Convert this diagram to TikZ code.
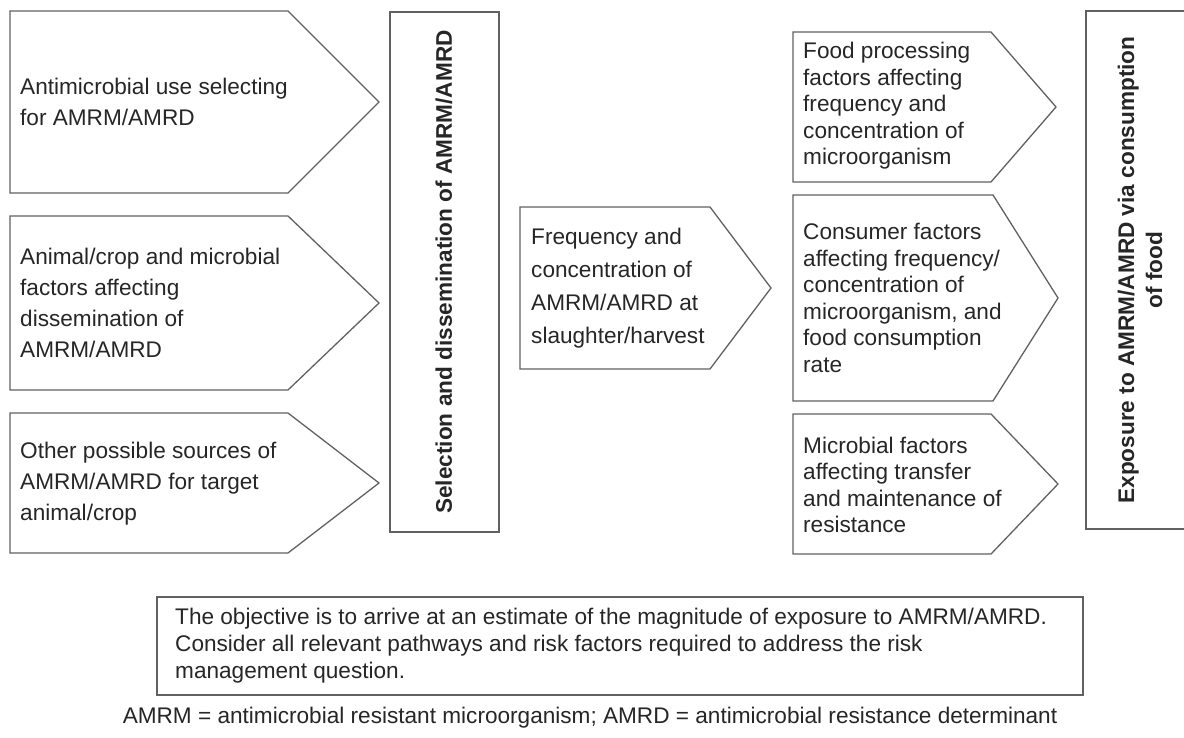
\documentclass[tikz,border=0pt]{standalone}
\usepackage{fontspec}
\setmainfont{Liberation Sans}
\tikzset{
  outline/.style={draw=black!62, line width=1.3pt, line join=miter},
  boxtext/.style={font=\fontsize{22.6}{31}\selectfont, text=black!85, align=left, anchor=west, inner sep=0pt},
  midtext/.style={boxtext, font=\fontsize{22.6}{33}\selectfont},
  righttext/.style={boxtext, font=\fontsize{22.6}{26.5}\selectfont},
  bartext/.style={font=\bfseries\fontsize{22.6}{28}\selectfont, text=black!85, align=center, rotate=90, inner sep=0pt}
}
\begin{document}
\begin{tikzpicture}[x=1pt, y=-1pt]
      \useasboundingbox (0,0) rectangle (1184,738);
      \clip (0,0) rectangle (1184,738);
      \draw[outline] (10,11) -- (288,11) -- (379,102) -- (288,193) -- (10,193) -- cycle;
      \draw[outline] (10,216) -- (288,216) -- (379,303) -- (288,390) -- (10,390) -- cycle;
      \draw[outline] (10,413) -- (288,413) -- (379,483) -- (288,553) -- (10,553) -- cycle;
      \draw[outline] (390,12) rectangle (499,532);
      \draw[outline] (520,207) -- (710,207) -- (771,288) -- (710,369) -- (520,369) -- cycle;
      \draw[outline] (793,32) -- (991,32) -- (1056,107) -- (991,182) -- (793,182) -- cycle;
      \draw[outline] (793,195) -- (993,195) -- (1058,298) -- (993,401) -- (793,401) -- cycle;
      \draw[outline] (793,414) -- (991,414) -- (1058,484) -- (991,554) -- (793,554) -- cycle;
      \draw[outline] (1086,11) rectangle (1200,529);
      \draw[outline] (157,597) rectangle (1083,695);
      \node[boxtext] (use) at (20,102) {Antimicrobial use selecting\\for AMRM/AMRD};
      \node[boxtext] (host) at (20,303) {Animal/crop and microbial\\factors affecting\\dissemination of\\AMRM/AMRD};
      \node[boxtext] (other) at (20,484) {Other possible sources of\\AMRM/AMRD for target\\animal/crop};
      \node[bartext] (select) at (444,272) {Selection and dissemination of AMRM/AMRD};
      \node[midtext] (slaughter) at (531,288) {Frequency and\\concentration of\\AMRM/AMRD at\\slaughter/harvest};
      \node[righttext] (process) at (803,106) {Food processing\\factors affecting\\frequency and\\concentration of\\microorganism};
      \node[righttext] (consumer) at (803,298) {Consumer factors\\affecting frequency/\\concentration of\\microorganism, and\\food consumption\\rate};
      \node[righttext] (transfer) at (803,485) {Microbial factors\\affecting transfer\\and maintenance of\\resistance};
      \node[bartext] (exposure) at (1140,270) {Exposure to AMRM/AMRD via consumption\\of food};
      \node[boxtext, font=\fontsize{22.6}{27}\selectfont] (objective) at (175,646) {The objective is to arrive at an estimate of the magnitude of exposure to AMRM/AMRD.\\Consider all relevant pathways and risk factors required to address the risk\\management question.};
      \node[font=\fontsize{22.6}{27}\selectfont, text=black!85, inner sep=0pt] (legend) at (590,718) {AMRM = antimicrobial resistant microorganism; AMRD = antimicrobial resistance determinant};
\end{tikzpicture}
\end{document}
